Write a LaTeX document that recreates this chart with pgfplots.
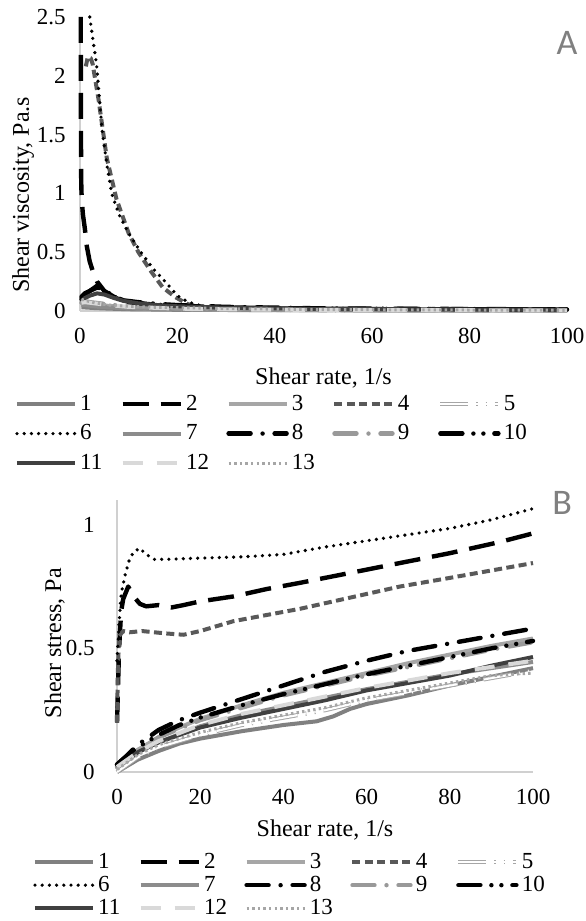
\documentclass[border=0pt]{standalone}
\usepackage{fontspec}
\setmainfont{Liberation Serif}
\newfontfamily\letterfont{Carlito}
\usepackage{pgfplots}
\pgfplotsset{compat=1.18}
\definecolor{c1}{HTML}{808080}
\definecolor{c3}{HTML}{A6A6A6}
\definecolor{c4}{HTML}{595959}
\definecolor{c5}{HTML}{A6A6A6}
\definecolor{c7}{HTML}{8C8C8C}
\definecolor{c9}{HTML}{999999}
\definecolor{c11}{HTML}{404040}
\definecolor{c12}{HTML}{D9D9D9}
\definecolor{c13}{HTML}{A6A6A6}
\definecolor{axgray}{HTML}{D0D0D0}
\newcommand\lgt[1]{\hspace{1.6pt}\makebox[12pt][l]{#1}}
\pgfplotsset{
  s1/.style={color=c1, line width=2pt, solid},
  s2/.style={color=black, line width=2.2pt, dash pattern=on 13pt off 6pt},
  s3/.style={color=c3, line width=2pt, solid},
  s4/.style={color=c4, line width=2pt, dash pattern=on 4pt off 2.2pt},
  s5/.style={draw=c5, line width=0.5pt, double=white, double distance=1.1pt, dash pattern=on 14pt off 4pt on 0.6pt off 4pt on 0.6pt off 4pt},
  s6/.style={color=black, line width=1.8pt, line cap=round, dash pattern=on 0pt off 3.6pt},
  s7/.style={color=c7, line width=2pt, solid},
  s8/.style={color=black, line width=2.2pt, line cap=round, dash pattern=on 11pt off 6pt on 0pt off 6pt},
  s9/.style={color=c9, line width=2.2pt, line cap=round, dash pattern=on 11pt off 6pt on 0pt off 6pt},
  s10/.style={color=black, line width=2.2pt, line cap=round, dash pattern=on 11pt off 5.5pt on 0pt off 5pt on 0pt off 5.5pt},
  s11/.style={color=c11, line width=2pt, solid},
  s12/.style={color=c12, line width=2pt, dash pattern=on 10pt off 7pt},
  s13/.style={color=c13, line width=1.5pt, dash pattern=on 1.2pt off 1.6pt},
  myaxis/.style={
    scale only axis,
    clip=false,
    xmin=0, xmax=100, ymin=0,
    axis x line*=bottom, axis y line*=left,
    axis line style={draw=axgray, line width=0.8pt},
    major tick length=0pt,
    xtick={0,20,...,100},
    tick label style={font=\fontsize{11.5}{13}\selectfont, /pgf/number format/assume math mode=true, inner sep=0pt},
    xticklabel style={anchor=base, yshift=-16.3pt},
    every axis plot/.append style={line join=round},
    legend columns=5,
    legend style={draw=none, fill=none, inner sep=0pt, outer sep=0pt, anchor=north west,
      nodes={inner sep=0pt, font=\fontsize{11.5}{13}\selectfont},
      column sep=0pt,
      /tikz/every even column/.append style={column sep=8.15pt}},
    legend image code/.code={\draw[##1] (0pt,0pt) -- (29pt,0pt);},
  },
}
\begin{document}
\begin{tikzpicture}
% ---------------- Panel A ----------------
\begin{axis}[myaxis,
  at={(40pt,305pt)}, anchor=south west,
  width=243.5pt, height=147pt,
  ymax=2.5, ytick={0,0.5,1,1.5,2,2.5},
  yticklabel style={anchor=east, xshift=-7pt},
  every axis x label/.style={at={(axis description cs:0.5,0)}, anchor=base, yshift=-37pt, font=\fontsize{12}{14}\selectfont},
  every axis y label/.style={at={(axis description cs:-0.117,0.395)}, rotate=90, anchor=center, font=\fontsize{12}{14}\selectfont},
  xlabel={Shear rate, 1/s}, ylabel={Shear viscosity, Pa.s},
  legend style={at={(0,0)}, xshift=-32.5pt, yshift=-42pt, row sep=5.6pt},
]
\addplot[s1] coordinates {(0.3,0.03)(1,0.03)(3,0.025)(6,0.02)(10,0.015)(20,0.01)(40,0.007)(100,0.004)};
\addlegendentry{\lgt{1}}
\addplot[s2] coordinates {(0.15,2.5)(0.18,2.0)(0.2,1.5)(0.25,1.1)(0.35,0.95)(0.6,0.82)(1.0,0.7)(1.4,0.55)(2.0,0.42)(2.7,0.33)(3.5,0.25)(5,0.17)(7,0.12)(10,0.08)(15,0.05)(20,0.035)(30,0.025)(50,0.018)(100,0.012)};
\addlegendentry{\lgt{2}}
\addplot[s3] coordinates {(0.3,0.08)(1,0.07)(2,0.065)(4,0.05)(7,0.04)(10,0.03)(15,0.022)(20,0.018)(30,0.013)(50,0.009)(100,0.006)};
\addlegendentry{\lgt{3}}
\addplot[s4] coordinates {(1.2,2.08)(1.6,2.16)(2.2,2.15)(2.6,2.1)(3.8,1.8)(5.5,1.3)(7.5,0.95)(10,0.66)(12,0.5)(14.7,0.33)(17,0.2)(19.5,0.12)(22,0.06)(25,0.03)(30,0.015)(50,0.01)(100,0.007)};
\addlegendentry{\lgt{4}}
\addplot[s5] coordinates {(0.3,0.06)(1,0.055)(3,0.045)(6,0.035)(10,0.025)(20,0.015)(30,0.01)(50,0.007)(100,0.004)};
\addlegendentry{\lgt{5}}
\addplot[s6] coordinates {(2,2.5)(2.5,2.35)(3.4,2.1)(4.5,1.55)(5.5,1.25)(6.5,1.0)(8,0.82)(10,0.66)(12.5,0.5)(15,0.36)(17.5,0.25)(20,0.13)(22,0.08)(25,0.04)(28,0.02)(35,0.012)(100,0.008)};
\addlegendentry{\lgt{6}}
\addplot[s7] coordinates {(0.3,0.05)(1,0.05)(3,0.04)(6,0.03)(10,0.022)(20,0.014)(30,0.01)(50,0.007)(100,0.004)};
\addlegendentry{\lgt{7}}
\addplot[s8] coordinates {(0.3,0.12)(1,0.15)(2,0.17)(3.7,0.22)(5,0.18)(7,0.12)(9,0.09)(12,0.075)(16,0.06)(20,0.05)(30,0.035)(50,0.022)(100,0.013)};
\addlegendentry{\lgt{8}}
\addplot[s9] coordinates {(0.3,0.07)(1,0.08)(3,0.07)(6,0.055)(10,0.04)(15,0.03)(20,0.022)(30,0.015)(50,0.01)(100,0.006)};
\addlegendentry{\lgt{9}}
\addplot[s10] coordinates {(0.3,0.1)(1,0.14)(2,0.17)(3,0.19)(3.7,0.2)(5,0.17)(6.5,0.13)(8.5,0.09)(11,0.07)(15,0.055)(20,0.045)(30,0.03)(50,0.02)(100,0.012)};
\addlegendentry{\lgt{10}}
\addplot[s11] coordinates {(0.3,0.08)(1,0.11)(2,0.13)(3.5,0.15)(5,0.14)(7,0.11)(9,0.085)(12,0.065)(16,0.05)(20,0.04)(30,0.028)(50,0.017)(100,0.01)};
\addlegendentry{\lgt{11}}
\addplot[s12] coordinates {(0.3,0.07)(1,0.075)(3,0.065)(6,0.05)(10,0.035)(20,0.02)(30,0.014)(50,0.009)(100,0.005)};
\addlegendentry{\lgt{12}}
\addplot[s13] coordinates {(0.3,0.1)(1,0.09)(3,0.07)(6,0.05)(10,0.04)(15,0.032)(20,0.028)(25,0.025)(30,0.02)(50,0.012)(100,0.006)};
\addlegendentry{\lgt{13}}
\node[font=\letterfont\fontsize{18}{20}\selectfont, text=black!50] at (rel axis cs:1.0,0.912) {A};
\end{axis}
% ---------------- Panel B ----------------
\begin{axis}[myaxis,
  at={(58.5pt,74.5pt)}, anchor=south west,
  width=208pt, height=136pt,
  ymax=1.1, ytick={0,0.5,1},
  yticklabel style={anchor=east, xshift=-11pt},
  every axis x label/.style={at={(axis description cs:0.5,0)}, anchor=base, yshift=-32pt, font=\fontsize{12}{14}\selectfont},
  every axis y label/.style={at={(axis description cs:-0.15,0.474)}, rotate=90, anchor=center, font=\fontsize{12}{14}\selectfont},
  xlabel={Shear rate, 1/s}, ylabel={Shear stress, Pa},
  legend style={at={(0,0)}, xshift=-42pt, yshift=-40.5pt, row sep=2.4pt},
]
\addplot[s1] coordinates {(0,0)(5,0.05)(10,0.085)(15,0.115)(20,0.135)(30,0.165)(40,0.19)(48,0.205)(52,0.225)(56,0.255)(60,0.275)(70,0.31)(80,0.35)(90,0.385)(100,0.42)};
\addlegendentry{\lgt{1}}
\addplot[s2] coordinates {(0,0.2)(0.5,0.5)(1,0.65)(1.5,0.7)(2.7,0.75)(4,0.71)(5.5,0.68)(7,0.67)(10,0.675)(13,0.665)(16,0.675)(20,0.69)(28,0.71)(36,0.74)(44,0.765)(56,0.805)(68,0.845)(80,0.885)(92,0.93)(100,0.965)};
\addlegendentry{\lgt{2}}
\addplot[s3] coordinates {(0,0.02)(2,0.05)(5,0.09)(10,0.14)(15,0.18)(20,0.215)(30,0.27)(40,0.32)(50,0.36)(60,0.4)(70,0.44)(80,0.475)(90,0.51)(100,0.54)};
\addlegendentry{\lgt{3}}
\addplot[s4] coordinates {(0,0.2)(0.2,0.4)(0.5,0.55)(1.5,0.57)(3,0.565)(6,0.57)(9,0.565)(12,0.56)(16,0.555)(20,0.57)(24,0.59)(28,0.61)(36,0.635)(44,0.66)(56,0.705)(68,0.75)(80,0.785)(90,0.815)(100,0.845)};
\addlegendentry{\lgt{4}}
\addplot[s5] coordinates {(0,0)(5,0.06)(10,0.1)(20,0.15)(30,0.19)(40,0.22)(50,0.25)(60,0.29)(70,0.32)(80,0.35)(90,0.38)(100,0.41)};
\addlegendentry{\lgt{5}}
\addplot[s6] coordinates {(0,0.45)(0.5,0.6)(1,0.72)(2,0.8)(3,0.86)(4,0.89)(5.5,0.905)(7,0.88)(9,0.86)(12,0.86)(20,0.865)(30,0.87)(40,0.88)(50,0.91)(60,0.935)(70,0.96)(80,0.985)(90,1.02)(100,1.065)};
\addlegendentry{\lgt{6}}
\addplot[s7] coordinates {(0,0.02)(5,0.08)(10,0.12)(20,0.185)(30,0.23)(40,0.265)(50,0.3)(60,0.335)(70,0.365)(80,0.395)(90,0.42)(100,0.445)};
\addlegendentry{\lgt{7}}
\addplot[s8] coordinates {(0,0.03)(2,0.06)(5,0.11)(10,0.17)(15,0.21)(20,0.24)(30,0.295)(40,0.35)(50,0.405)(60,0.45)(70,0.49)(80,0.52)(90,0.55)(100,0.58)};
\addlegendentry{\lgt{8}}
\addplot[s9] coordinates {(0,0.02)(5,0.09)(10,0.14)(20,0.21)(30,0.26)(40,0.31)(50,0.35)(60,0.39)(70,0.425)(80,0.46)(90,0.495)(100,0.525)};
\addlegendentry{\lgt{9}}
\addplot[s10] coordinates {(0,0.03)(2,0.06)(5,0.1)(10,0.15)(15,0.19)(20,0.22)(30,0.27)(40,0.315)(50,0.355)(60,0.395)(70,0.43)(80,0.465)(90,0.5)(100,0.53)};
\addlegendentry{\lgt{10}}
\addplot[s11] coordinates {(0,0.02)(5,0.08)(10,0.12)(15,0.15)(20,0.18)(30,0.22)(40,0.255)(50,0.29)(60,0.33)(70,0.36)(80,0.39)(90,0.43)(100,0.465)};
\addlegendentry{\lgt{11}}
\addplot[s12] coordinates {(0,0.02)(5,0.08)(10,0.125)(20,0.19)(30,0.235)(40,0.27)(50,0.305)(60,0.34)(70,0.37)(80,0.4)(90,0.425)(100,0.45)};
\addlegendentry{\lgt{12}}
\addplot[s13] coordinates {(0,0.01)(5,0.07)(10,0.11)(20,0.16)(30,0.2)(40,0.23)(50,0.26)(60,0.3)(70,0.33)(80,0.36)(90,0.39)(100,0.4)};
\addlegendentry{\lgt{13}}
\node[font=\letterfont\fontsize{18}{20}\selectfont, text=black!50] at (rel axis cs:1.07,0.99) {B};
\end{axis}
\pgfresetboundingbox
\useasboundingbox (0,0) rectangle (292.5pt,460.5pt);
\end{tikzpicture}
\end{document}
